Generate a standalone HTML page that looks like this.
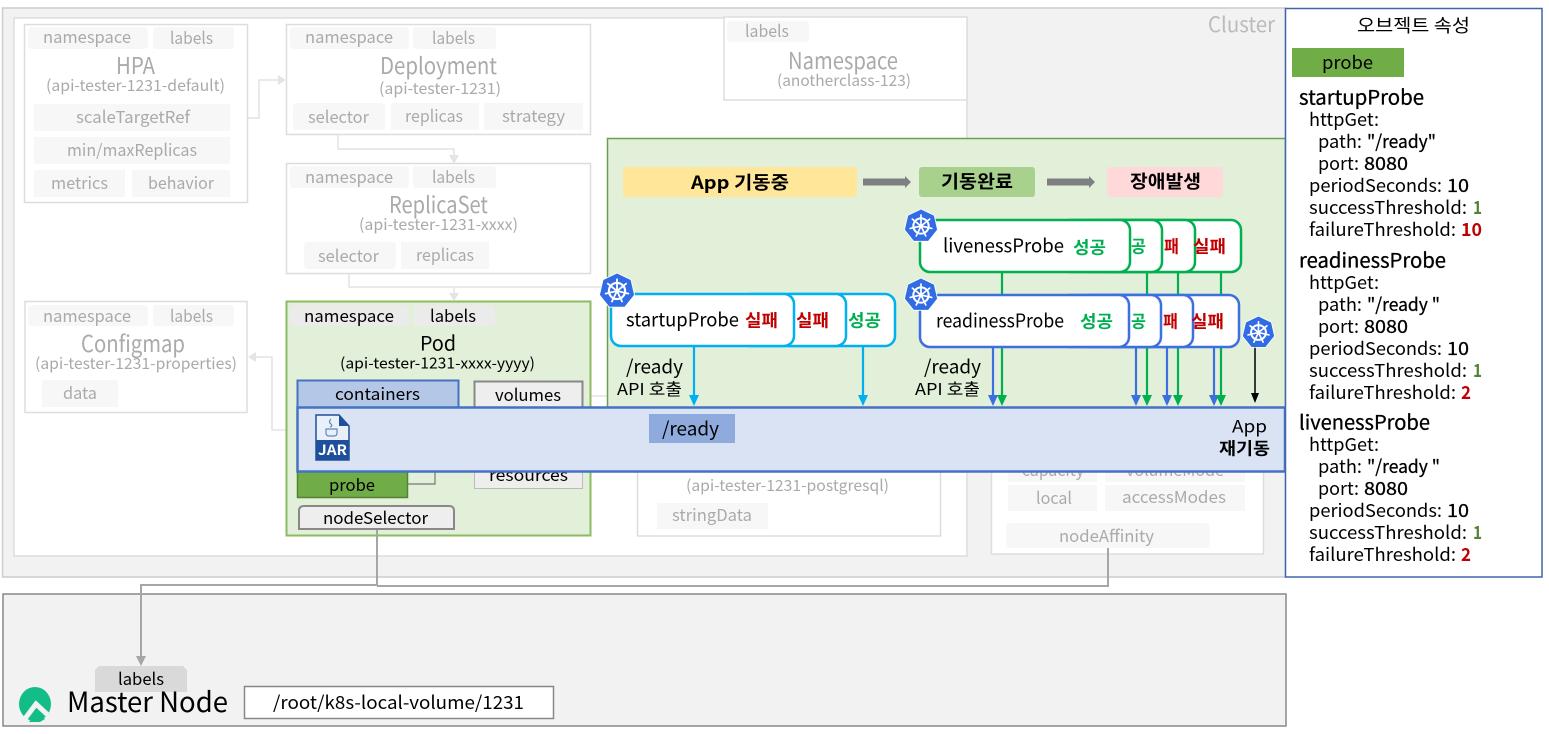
<!DOCTYPE html>
<html><head><meta charset="utf-8"><style>
html,body{margin:0;padding:0;background:#fff;width:1549px;height:734px;overflow:hidden}
svg{display:block}
text{font-family:"Noto Sans CJK KR","Liberation Sans",sans-serif;dominant-baseline:central;fill:#000;transform:translateY(-1px)}
.f text{fill:#aaa;font-size:16.500px}
.tag{fill:#f7f7f7}
.box{fill:#fff;stroke:#ddd;stroke-width:1.5}
.b{font-weight:700}
.m{stroke:#000;stroke-width:.3px}
.s{font-size:19px}
.r{fill:#c00000;font-weight:700}
.g{fill:#00b050;font-weight:700}
</style></head><body>
<svg width="1549" height="734" viewBox="0 0 1549 734" xmlns="http://www.w3.org/2000/svg">
<defs>
<symbol id="k" viewBox="-20 -20 40 40" overflow="visible">
<polygon points="0,-20 15.6,-12.5 19.5,4.5 8.7,18 -8.7,18 -19.5,4.5 -15.6,-12.5" fill="#326ce5" stroke="#fff" stroke-width="1"/>
<circle r="9" fill="none" stroke="#fff" stroke-width="2.4"/>
<circle r="2.4" fill="#fff"/>
<g stroke="#fff" stroke-width="2" stroke-linecap="round"><path d="M0,0V-13M0,0L10.2,-8.1M0,0L12.7,2.9M0,0L5.6,11.7M0,0L-5.6,11.7M0,0L-12.7,2.9M0,0L-10.2,-8.1"/></g>
</symbol>
</defs>

<!-- cluster -->
<rect x="2.5" y="8" width="1283" height="569" fill="#f2f2f2" stroke="#ccc" stroke-width="1.5"/>
<rect x="14" y="18" width="953" height="538" fill="#fff" stroke="#ddd" stroke-width="1.5"/>
<text x="1208" y="25" font-size="21" textLength="67" lengthAdjust="spacingAndGlyphs" style="fill:#bbb">Cluster</text>

<!-- faded connectors -->
<g fill="none" stroke="#e4e4e4" stroke-width="1.5">
<path d="M230 118H259V80H280"/>
<path d="M338 130V149H454V156"/>
<path d="M349 268V287H607"/>
<path d="M454 287V294"/>
<path d="M286 430H272V357H254"/>
<path d="M583 396H607"/>
</g>
<g fill="#e4e4e4">
<polygon points="286,80 278,75 278,85"/>
<polygon points="454,164 449,155 459,155"/>
<polygon points="454,301 449,293 459,293"/>
<polygon points="248,357 256,352 256,362"/>
</g>

<g class="f">
<!-- HPA -->
<rect class="box" x="24.5" y="24.5" width="223" height="178"/>
<rect class="tag" x="28" y="27" width="120" height="22" rx="4"/><rect class="tag" x="153" y="27" width="81" height="22" rx="3"/>
<text x="43" y="37" textLength="88" lengthAdjust="spacingAndGlyphs">namespace</text><text x="170" y="38" textLength="43" lengthAdjust="spacingAndGlyphs">labels</text>
<text x="116" y="65" font-size="23" style="font-size:23px" textLength="39" lengthAdjust="spacingAndGlyphs">HPA</text>
<text x="46" y="86" textLength="179" lengthAdjust="spacingAndGlyphs" style="font-size:15.5px">(api-tester-1231-default)</text>
<rect class="tag" x="34" y="104" width="196" height="27"/><text x="76" y="117" textLength="114" lengthAdjust="spacingAndGlyphs">scaleTargetRef</text>
<rect class="tag" x="34" y="137" width="196" height="27"/><text x="67" y="150" textLength="130" lengthAdjust="spacingAndGlyphs">min/maxReplicas</text>
<rect class="tag" x="34" y="170" width="91" height="27"/><text x="51" y="183" textLength="57" lengthAdjust="spacingAndGlyphs">metrics</text>
<rect class="tag" x="132" y="170" width="98" height="27"/><text x="148" y="183" textLength="66" lengthAdjust="spacingAndGlyphs">behavior</text>

<!-- Deployment -->
<rect class="box" x="286.5" y="24.5" width="304" height="110"/>
<rect class="tag" x="290" y="27" width="119" height="22" rx="4"/><rect class="tag" x="413" y="27" width="83" height="22" rx="3"/>
<text x="305" y="37" textLength="88" lengthAdjust="spacingAndGlyphs">namespace</text><text x="432" y="38" textLength="43" lengthAdjust="spacingAndGlyphs">labels</text>
<text x="380" y="65" style="font-size:23px" textLength="117" lengthAdjust="spacingAndGlyphs">Deployment</text>
<text x="379" y="89" style="font-size:15.5px" textLength="122" lengthAdjust="spacingAndGlyphs">(api-tester-1231)</text>
<rect class="tag" x="293" y="103" width="92" height="27" rx="4"/><text x="308" y="117" textLength="61" lengthAdjust="spacingAndGlyphs">selector</text>
<rect class="tag" x="391" y="103" width="88" height="27"/><text x="405" y="116" textLength="58" lengthAdjust="spacingAndGlyphs">replicas</text>
<rect class="tag" x="484" y="103" width="99" height="27"/><text x="502" y="116" textLength="63" lengthAdjust="spacingAndGlyphs">strategy</text>

<!-- ReplicaSet -->
<rect class="box" x="286.5" y="163.5" width="304" height="110"/>
<rect class="tag" x="290" y="166" width="119" height="22" rx="4"/><rect class="tag" x="413" y="166" width="83" height="22" rx="3"/>
<text x="305" y="177" textLength="88" lengthAdjust="spacingAndGlyphs">namespace</text><text x="432" y="177" textLength="43" lengthAdjust="spacingAndGlyphs">labels</text>
<text x="389" y="204" style="font-size:23px" textLength="99" lengthAdjust="spacingAndGlyphs">ReplicaSet</text>
<text x="359" y="225" style="font-size:15.5px" textLength="159" lengthAdjust="spacingAndGlyphs">(api-tester-1231-xxxx)</text>
<rect class="tag" x="304" y="242" width="92" height="27" rx="4"/><text x="318" y="256" textLength="61" lengthAdjust="spacingAndGlyphs">selector</text>
<rect class="tag" x="401" y="242" width="88" height="27"/><text x="416" y="255" textLength="58" lengthAdjust="spacingAndGlyphs">replicas</text>

<!-- Configmap -->
<rect class="box" x="25" y="301.5" width="222" height="111"/>
<rect class="tag" x="28" y="305" width="120" height="21" rx="4"/><rect class="tag" x="153" y="305" width="81" height="21" rx="3"/>
<text x="43" y="316" textLength="88" lengthAdjust="spacingAndGlyphs">namespace</text><text x="170" y="316" textLength="43" lengthAdjust="spacingAndGlyphs">labels</text>
<text x="81" y="343" style="font-size:23px" textLength="104" lengthAdjust="spacingAndGlyphs">Configmap</text>
<text x="35" y="364" style="font-size:15.5px" textLength="202" lengthAdjust="spacingAndGlyphs">(api-tester-1231-properties)</text>
<rect class="tag" x="42" y="380" width="76" height="27"/><text x="63" y="393" textLength="34" lengthAdjust="spacingAndGlyphs">data</text>

<!-- Namespace -->
<rect class="box" x="724" y="17" width="243" height="83"/>
<rect class="tag" x="727" y="21" width="82" height="21" rx="3"/>
<text x="745" y="31" textLength="44" lengthAdjust="spacingAndGlyphs">labels</text>
<text x="788" y="60" style="font-size:23px" textLength="110" lengthAdjust="spacingAndGlyphs">Namespace</text>
<text x="777" y="81" style="font-size:15.5px" textLength="134" lengthAdjust="spacingAndGlyphs">(anotherclass-123)</text>

<!-- Secret -->
<rect class="box" x="637.5" y="460" width="303" height="76"/>
<text x="686" y="486" style="font-size:15.5px" textLength="203" lengthAdjust="spacingAndGlyphs">(api-tester-1231-postgresql)</text>
<rect class="tag" x="657" y="503" width="111" height="26"/><text x="672" y="515" textLength="80" lengthAdjust="spacingAndGlyphs">stringData</text>

<!-- PV -->
<rect class="box" x="991.5" y="460" width="272" height="94"/>
<rect class="tag" x="1008" y="465" width="89" height="17"/><rect class="tag" x="1105" y="465" width="140" height="17"/>
<text x="1022" y="470" textLength="62" lengthAdjust="spacingAndGlyphs">capacity</text><text x="1126" y="470" textLength="98" lengthAdjust="spacingAndGlyphs">volumeMode</text>
<rect class="tag" x="1008" y="485" width="89" height="26"/><text x="1036" y="498" textLength="36" lengthAdjust="spacingAndGlyphs">local</text>
<rect class="tag" x="1105" y="485" width="140" height="26"/><text x="1122" y="497" textLength="104" lengthAdjust="spacingAndGlyphs">accessModes</text>
<rect class="tag" x="1006" y="523" width="204" height="25" rx="4"/><text x="1059" y="536" textLength="95" lengthAdjust="spacingAndGlyphs">nodeAffinity</text>
</g>

<!-- Green panel -->
<rect x="607.5" y="138.5" width="678" height="270" fill="#e2efd9" stroke="#6f9f4a" stroke-width="1.5"/>
<rect x="623" y="167" width="234" height="30" rx="3" fill="#ffe699"/>
<text x="691" y="183" font-size="18" class="b" textLength="98" lengthAdjust="spacingAndGlyphs">App 기동중</text>
<rect x="919" y="167" width="116" height="30" rx="3" fill="#a9d18e"/>
<text x="941" y="182" font-size="18" class="b" textLength="72" lengthAdjust="spacingAndGlyphs">기동완료</text>
<rect x="1107" y="167" width="116" height="30" rx="3" fill="#ffd9d9"/>
<text x="1130" y="182" font-size="18" class="b" textLength="71" lengthAdjust="spacingAndGlyphs">장애발생</text>
<polygon points="863,178.500 905,178.500 905,176 911,182 905,188 905,185.500 863,185.500" fill="#7f7f7f"/>
<polygon points="1047,178.500 1089,178.500 1089,176 1095,182 1089,188 1089,185.500 1047,185.500" fill="#7f7f7f"/>

<!-- Arrows -->
<g fill="none" stroke-width="2.2">
<g stroke="#00b050"><path d="M1002 273V398M1147 273V398M1178 273V398M1221 273V398"/></g>
<g stroke="#3c6fe0"><path d="M993 348V398M1136 348V398M1167 348V398M1214 348V398"/></g>
<g stroke="#00b0f0"><path d="M694 347V398M863 347V398"/></g>
<path d="M1255 345V396" stroke="#000" stroke-width="1.5"/>
</g>
<g fill="#00b0f0"><polygon points="694,406 689,395 699,395"/><polygon points="863,406 858,395 868,395"/></g>
<g fill="#3c6fe0"><polygon points="993,406 988,395 998,395"/><polygon points="1136,406 1131,395 1141,395"/><polygon points="1167,406 1162,395 1172,395"/><polygon points="1214,406 1209,395 1219,395"/></g>
<g fill="#00b050"><polygon points="1002,406 997,395 1007,395"/><polygon points="1147,406 1142,395 1152,395"/><polygon points="1178,406 1173,395 1183,395"/><polygon points="1221,406 1216,395 1226,395"/></g>
<polygon points="1255,403 1251,393 1259,393" fill="#000"/>

<!-- liveness -->
<g fill="#fff" stroke="#00b050" stroke-width="2.5">
<rect x="1100" y="220" width="141" height="52" rx="10"/>
<rect x="1080" y="220" width="115" height="52" rx="10"/>
<rect x="1060" y="220" width="102" height="52" rx="10"/>
<rect x="920" y="220" width="210" height="52" rx="10"/>
</g>
<text x="943" y="246" class="s" textLength="121" lengthAdjust="spacingAndGlyphs">livenessProbe</text>
<text x="1073" y="247" class="g" font-size="17" textLength="33" lengthAdjust="spacingAndGlyphs">성공</text>
<text x="1131" y="246" class="g" font-size="17" textLength="15" lengthAdjust="spacingAndGlyphs">공</text>
<text x="1164" y="246" class="r" font-size="17" textLength="15" lengthAdjust="spacingAndGlyphs">패</text>
<text x="1193" y="246" class="r" font-size="17" textLength="33" lengthAdjust="spacingAndGlyphs">실패</text>

<!-- readiness -->
<g fill="#fff" stroke="#3c6fe0" stroke-width="2.5">
<rect x="1100" y="295" width="139" height="52" rx="10"/>
<rect x="1080" y="295" width="113" height="52" rx="10"/>
<rect x="1060" y="295" width="101" height="52" rx="10"/>
<rect x="920" y="295" width="209" height="52" rx="10"/>
</g>
<text x="936" y="321" class="s" textLength="128" lengthAdjust="spacingAndGlyphs">readinessProbe</text>
<text x="1080" y="321" class="g" font-size="17" textLength="33" lengthAdjust="spacingAndGlyphs">성공</text>
<text x="1131" y="321" class="g" font-size="17" textLength="15" lengthAdjust="spacingAndGlyphs">공</text>
<text x="1163" y="321" class="r" font-size="17" textLength="15" lengthAdjust="spacingAndGlyphs">패</text>
<text x="1191" y="321" class="r" font-size="17" textLength="33" lengthAdjust="spacingAndGlyphs">실패</text>

<!-- startup -->
<g fill="#fff" stroke="#00b0f0" stroke-width="2.5">
<rect x="780" y="294" width="115" height="52" rx="10"/>
<rect x="740" y="294" width="106" height="52" rx="10"/>
<rect x="611" y="294" width="183" height="52" rx="10"/>
</g>
<text x="626" y="320" class="s" textLength="113" lengthAdjust="spacingAndGlyphs">startupProbe</text>
<text x="745" y="320" class="r" font-size="17" textLength="33" lengthAdjust="spacingAndGlyphs">실패</text>
<text x="796" y="320" class="r" font-size="17" textLength="33" lengthAdjust="spacingAndGlyphs">실패</text>
<text x="848" y="320" class="g" font-size="17" textLength="33" lengthAdjust="spacingAndGlyphs">성공</text>

<use href="#k" x="599" y="273" width="36" height="36"/>
<use href="#k" x="904" y="209" width="34" height="34"/>
<use href="#k" x="904" y="278" width="34" height="34"/>
<use href="#k" x="1242" y="316" width="33" height="33"/>

<text x="626" y="367" class="s" textLength="57" lengthAdjust="spacingAndGlyphs">/ready</text>
<text x="617" y="389" font-size="16.5" textLength="65" lengthAdjust="spacingAndGlyphs">API 호출</text>
<text x="924" y="367" class="s" textLength="57" lengthAdjust="spacingAndGlyphs">/ready</text>
<text x="915" y="389" font-size="16.5" textLength="65" lengthAdjust="spacingAndGlyphs">API 호출</text>

<!-- Pod -->
<rect x="286.500" y="301.500" width="304" height="234" fill="#e2efd9" stroke="#8cbb62" stroke-width="2"/>
<rect x="290" y="305" width="119" height="21" rx="4" fill="#ebebeb"/>
<rect x="413" y="305" width="82" height="21" rx="3" fill="#ebebeb"/>
<text x="304" y="316" font-size="16.5" textLength="90" lengthAdjust="spacingAndGlyphs">namespace</text>
<text x="430" y="316" font-size="16.5" textLength="46" lengthAdjust="spacingAndGlyphs">labels</text>
<text x="420" y="343" font-size="20" textLength="36" lengthAdjust="spacingAndGlyphs">Pod</text>
<text x="340" y="364" font-size="15" textLength="195" lengthAdjust="spacingAndGlyphs">(api-tester-1231-xxxx-yyyy)</text>
<rect x="297.500" y="380.500" width="161" height="28" fill="#b4c7e7" stroke="#4472c4" stroke-width="2"/>
<text x="335" y="394" font-size="16.5" textLength="85" lengthAdjust="spacingAndGlyphs">containers</text>
<rect x="474.500" y="381.500" width="108" height="28" fill="#eee" stroke="#888" stroke-width="2"/>
<text x="495" y="395" font-size="16.5" textLength="66" lengthAdjust="spacingAndGlyphs">volumes</text>
<rect x="474.500" y="462.500" width="108" height="26" fill="#eee" stroke="#bbb"/>
<text x="489" y="475" font-size="16.5" textLength="79" lengthAdjust="spacingAndGlyphs">resources</text>
<path d="M408 484H435V465" fill="none" stroke="#777" stroke-width="1.200"/>
<rect x="297.500" y="468" width="110" height="29.500" fill="#70ad47" stroke="#548235" stroke-width="1.500"/>
<text x="329" y="485" font-size="16.5" textLength="46" lengthAdjust="spacingAndGlyphs">probe</text>
<path d="M299 529V511Q299 506 304 506H449Q454 506 454 511V529Z" fill="#eee" stroke="#888" stroke-width="2"/>
<text x="323" y="518" font-size="16.5" textLength="105" lengthAdjust="spacingAndGlyphs">nodeSelector</text>

<!-- App bar -->
<rect x="297.500" y="407.500" width="987.500" height="64" fill="#dae3f3" stroke="#4472c4" stroke-width="2.500"/>
<rect x="649" y="414" width="86" height="29" fill="#8faadc"/>
<text x="662" y="429" class="s" textLength="57" lengthAdjust="spacingAndGlyphs">/ready</text>
<text x="1232" y="426" font-size="17" textLength="35" lengthAdjust="spacingAndGlyphs">App</text>
<text x="1219" y="448" font-size="17" class="b" textLength="51" lengthAdjust="spacingAndGlyphs">재기동</text>
<!-- JAR icon -->
<path d="M316 415H339L349 426V460H316Z" fill="#eaf0f9" stroke="#1d4f9c" stroke-width="1.500"/>
<path d="M339 415V426H349" fill="#1d4f9c"/>
<rect x="316" y="440" width="33" height="20" fill="#1d4f9c"/>
<path d="M326 429h11v4q0 3-3 3h-5q-3 0-3-3zM331 419q-3 3 0 5q2 2-1 3" fill="none" stroke="#5f86bf" stroke-width="1.200"/>
<text x="318" y="451" font-size="14" class="b" textLength="29" lengthAdjust="spacingAndGlyphs" style="fill:#fff">JAR</text>

<!-- Node connectors -->
<g fill="none" stroke="#a6a6a6" stroke-width="2">
<path d="M377 530V585H141V658"/>
<path d="M1108 548V586H377"/>
</g>

<!-- Master Node -->
<rect x="3" y="594" width="1283" height="132" fill="#f2f2f2" stroke="#888" stroke-width="1.500"/>
<path d="M141 585V658" fill="none" stroke="#a6a6a6" stroke-width="2"/>
<path d="M95 670L99 666H183L187 670V692H95Z" fill="#d9d9d9"/>
<polygon points="141,666 136,656 146,656" fill="#a6a6a6"/>
<text x="118" y="679" font-size="16.5" textLength="46" lengthAdjust="spacingAndGlyphs">labels</text>
<ellipse cx="35" cy="704" rx="16" ry="17" fill="#13bd87"/>
<path d="M24 720L36 704L50 717" fill="none" stroke="#f2f2f2" stroke-width="5"/>
<polygon points="29,722 37,711 45,719 40,722" fill="#13bd87"/>
<text x="67" y="702" font-size="28" textLength="161" lengthAdjust="spacingAndGlyphs">Master Node</text>
<rect x="244.500" y="686.500" width="309" height="32" fill="#fff" stroke="#888" stroke-width="1.500"/>
<text x="273" y="703" font-size="18" textLength="251" lengthAdjust="spacingAndGlyphs">/root/k8s-local-volume/1231</text>

<!-- Right panel -->
<rect x="1285.500" y="8.500" width="256.500" height="568.500" fill="#fff" stroke="#3f66ad" stroke-width="1.500"/>
<text x="1357" y="26" font-size="18" textLength="113" lengthAdjust="spacingAndGlyphs">오브젝트 속성</text>
<rect x="1292" y="48" width="112" height="29" fill="#70ad47"/>
<text x="1322" y="63" font-size="18" textLength="51" lengthAdjust="spacingAndGlyphs">probe</text>

<g font-size="18">
<text x="1299" y="97" font-size="20" class="m" textLength="125" lengthAdjust="spacingAndGlyphs">startupProbe</text>
<text x="1309" y="120" textLength="70" lengthAdjust="spacingAndGlyphs">httpGet:</text>
<text x="1318" y="142" textLength="44" lengthAdjust="spacingAndGlyphs">path:</text><text x="1367" y="142" class="m" textLength="69" lengthAdjust="spacingAndGlyphs">"/ready"</text>
<text x="1318" y="164" textLength="41" lengthAdjust="spacingAndGlyphs">port:</text><text x="1364" y="164" class="m" textLength="44" lengthAdjust="spacingAndGlyphs">8080</text>
<text x="1309" y="186" textLength="133" lengthAdjust="spacingAndGlyphs">periodSeconds:</text><text x="1447" y="186" class="m" textLength="22" lengthAdjust="spacingAndGlyphs">10</text>
<text x="1309" y="208" textLength="158" lengthAdjust="spacingAndGlyphs">successThreshold:</text><text x="1473" y="208" class="b" style="fill:#548235" textLength="9" lengthAdjust="spacingAndGlyphs">1</text>
<text x="1309" y="230" textLength="147" lengthAdjust="spacingAndGlyphs">failureThreshold:</text><text x="1461" y="230" class="r" textLength="21" lengthAdjust="spacingAndGlyphs">10</text>

<text x="1299" y="260" font-size="20" class="m" textLength="147" lengthAdjust="spacingAndGlyphs">readinessProbe</text>
<text x="1309" y="283" textLength="70" lengthAdjust="spacingAndGlyphs">httpGet:</text>
<text x="1318" y="305" textLength="44" lengthAdjust="spacingAndGlyphs">path:</text><text x="1367" y="305" class="m" textLength="73" lengthAdjust="spacingAndGlyphs">"/ready "</text>
<text x="1318" y="327" textLength="41" lengthAdjust="spacingAndGlyphs">port:</text><text x="1364" y="327" class="m" textLength="44" lengthAdjust="spacingAndGlyphs">8080</text>
<text x="1309" y="349" textLength="133" lengthAdjust="spacingAndGlyphs">periodSeconds:</text><text x="1447" y="349" class="m" textLength="22" lengthAdjust="spacingAndGlyphs">10</text>
<text x="1309" y="371" textLength="158" lengthAdjust="spacingAndGlyphs">successThreshold:</text><text x="1473" y="371" class="b" style="fill:#548235" textLength="9" lengthAdjust="spacingAndGlyphs">1</text>
<text x="1309" y="393" textLength="147" lengthAdjust="spacingAndGlyphs">failureThreshold:</text><text x="1461" y="393" class="r" textLength="10" lengthAdjust="spacingAndGlyphs">2</text>

<text x="1299" y="422" font-size="20" class="m" textLength="131" lengthAdjust="spacingAndGlyphs">livenessProbe</text>
<text x="1309" y="445" textLength="70" lengthAdjust="spacingAndGlyphs">httpGet:</text>
<text x="1318" y="467" textLength="44" lengthAdjust="spacingAndGlyphs">path:</text><text x="1367" y="467" class="m" textLength="73" lengthAdjust="spacingAndGlyphs">"/ready "</text>
<text x="1318" y="489" textLength="41" lengthAdjust="spacingAndGlyphs">port:</text><text x="1364" y="489" class="m" textLength="44" lengthAdjust="spacingAndGlyphs">8080</text>
<text x="1309" y="511" textLength="133" lengthAdjust="spacingAndGlyphs">periodSeconds:</text><text x="1447" y="511" class="m" textLength="22" lengthAdjust="spacingAndGlyphs">10</text>
<text x="1309" y="533" textLength="158" lengthAdjust="spacingAndGlyphs">successThreshold:</text><text x="1473" y="533" class="b" style="fill:#548235" textLength="9" lengthAdjust="spacingAndGlyphs">1</text>
<text x="1309" y="555" textLength="147" lengthAdjust="spacingAndGlyphs">failureThreshold:</text><text x="1461" y="555" class="r" textLength="10" lengthAdjust="spacingAndGlyphs">2</text>
</g>
</svg>
</body></html>
